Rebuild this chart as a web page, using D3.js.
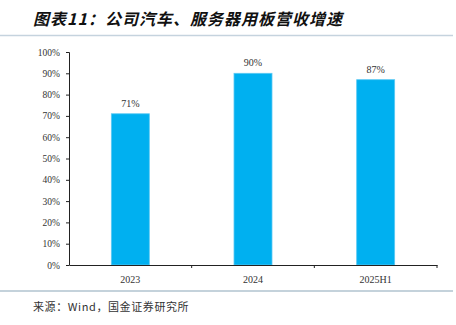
<!DOCTYPE html>
<html>
<head>
<meta charset="utf-8">
<script src="https://cdn.jsdelivr.net/npm/d3@7/dist/d3.min.js"></script>
<style>
  html, body { margin: 0; padding: 0; background: #ffffff; }
  svg { display: block; }
</style>
</head>
<body>
<svg id="chart" width="456" height="325"></svg>
<script>
// Revenue growth of automotive and server PCB business
const categories = ["2023", "2024", "2025H1"];
const growth = [71, 90, 87];
const yTicks = [0, 10, 20, 30, 40, 50, 60, 70, 80, 90, 100];

const titleText = "图表11：公司汽车、服务器用板营收增速";
const sourceText = "来源：Wind，国金证券研究所";

const svg = d3.select("#chart");
const serif = "'Liberation Serif', 'DejaVu Serif', 'Noto Sans CJK SC', serif";
const cjk = "'Noto Sans CJK SC', sans-serif";

// header
svg.append("text")
  .attr("x", 33).attr("y", 25)
  .attr("font-family", cjk)
  .attr("font-size", 16)
  .attr("font-weight", 600)
  .attr("font-style", "italic")
  .attr("fill", "#111")
  .attr("letter-spacing", 1)
  .text(titleText);

svg.append("line")
  .attr("x1", 0).attr("x2", 453)
  .attr("y1", 35.5).attr("y2", 35.5)
  .attr("stroke", "#c5d3de").attr("stroke-width", 1.5);

// plot area
const x = d3.scaleBand().domain(categories).range([69, 437]).paddingInner(0).paddingOuter(0);
const y = d3.scaleLinear().domain([0, 100]).range([265, 52]);
const barW = 38;

svg.append("g").selectAll("rect")
  .data(growth)
  .join("rect")
  .attr("x", (d, i) => x(categories[i]) + x.bandwidth() / 2 - barW / 2)
  .attr("y", d => y(d))
  .attr("width", barW)
  .attr("height", d => y(0) - y(d))
  .attr("fill", "#00b0f0")
  .attr("stroke", "#5cc9f3")
  .attr("stroke-width", 0.8);

svg.append("g").selectAll("text")
  .data(growth)
  .join("text")
  .attr("x", (d, i) => x(categories[i]) + x.bandwidth() / 2)
  .attr("y", d => y(d) - 7)
  .attr("text-anchor", "middle")
  .attr("font-family", serif)
  .attr("font-size", 10)
  .attr("fill", "#333")
  .text(d => d + "%");

// y axis
const yAxis = d3.axisLeft(y).tickValues(yTicks).tickSize(3).tickFormat(d => d + "%");
const gy = svg.append("g").attr("transform", "translate(69,0)").call(yAxis);
gy.select(".domain").attr("stroke", "#222").attr("d", "M-3,52.5H0.5V265.5");
gy.selectAll(".tick line").attr("stroke", "#222");
gy.selectAll(".tick text")
  .attr("x", -9)
  .attr("font-family", serif)
  .attr("font-size", 9.5)
  .attr("fill", "#333");

// x axis
const xAxis = d3.axisBottom(x).tickSize(0);
const gx = svg.append("g").attr("transform", "translate(0,265)").call(xAxis);
gx.select(".domain").attr("stroke", "#222");
gx.selectAll(".tick text")
  .attr("y", 11)
  .attr("font-family", serif)
  .attr("font-size", 10)
  .attr("fill", "#333");

// boundary marks between categories
svg.append("g").selectAll("line")
  .data(categories)
  .join("line")
  .attr("x1", d => x(d) + x.bandwidth())
  .attr("x2", d => x(d) + x.bandwidth())
  .attr("y1", 265).attr("y2", 268)
  .attr("stroke", "#222");

// footer
svg.append("line")
  .attr("x1", 0).attr("x2", 453)
  .attr("y1", 291).attr("y2", 291)
  .attr("stroke", "#8aa6b8").attr("stroke-width", 1.2);

svg.append("text")
  .attr("x", 33).attr("y", 311)
  .attr("font-family", cjk)
  .attr("font-size", 11)
  .attr("fill", "#333")
  .attr("letter-spacing", 0.6)
  .text(sourceText);
</script>
</body>
</html>
